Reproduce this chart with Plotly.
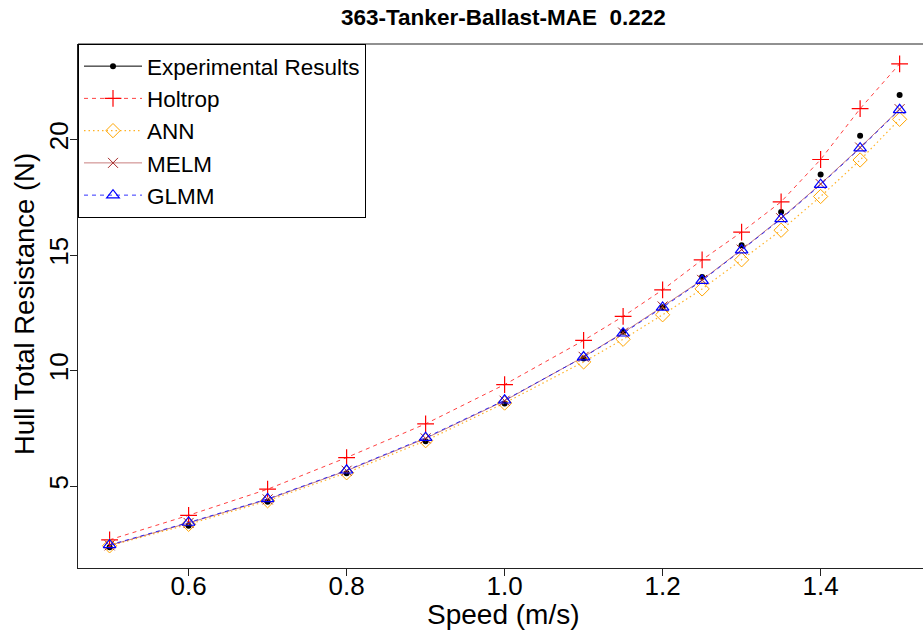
import plotly.graph_objects as go

speed = [0.5, 0.6, 0.7, 0.8, 0.9, 1.0, 1.1, 1.15, 1.2, 1.25, 1.3, 1.35, 1.4, 1.45, 1.5]
experimental = [2.36, 3.29, 4.33, 5.56, 6.95, 8.58, 10.53, 11.69, 12.75, 14.06, 15.43, 16.87, 18.49, 20.17, 21.93]
holtrop = [2.68, 3.74, 4.87, 6.24, 7.70, 9.40, 11.31, 12.35, 13.50, 14.80, 16.00, 17.31, 19.14, 21.34, 23.28]
ann = [2.42, 3.35, 4.37, 5.58, 6.97, 8.60, 10.38, 11.36, 12.42, 13.54, 14.80, 16.08, 17.54, 19.12, 20.88]
melm = [2.44, 3.41, 4.43, 5.67, 7.07, 8.70, 10.60, 11.65, 12.78, 13.93, 15.24, 16.60, 18.08, 19.66, 21.32]
glmm = [2.46, 3.43, 4.45, 5.69, 7.10, 8.72, 10.59, 11.62, 12.74, 13.90, 15.22, 16.57, 18.05, 19.63, 21.29]

x_ticks = [0.6, 0.8, 1.0, 1.2, 1.4]
x_ticklabels = ["0.6", "0.8", "1.0", "1.2", "1.4"]
y_ticks = [5, 10, 15, 20]
y_ticklabels = ["5", "10", "15", "20"]

title_text = "363-Tanker-Ballast-MAE  0.222"
x_title = "Speed (m/s)"
y_title = "Hull Total Resistance (N)"

FONT = "Liberation Sans, Arial, sans-serif"

fig = go.Figure()
# Experimental: points only in the plot, line+point symbol in the legend
fig.add_trace(go.Scatter(
    x=speed, y=experimental, name="Experimental Results", mode="markers",
    marker=dict(symbol="circle", size=6, color="black"), showlegend=False))
fig.add_trace(go.Scatter(
    x=[None], y=[None], name="Experimental Results", mode="lines+markers",
    line=dict(color="black", width=1, dash="solid"),
    marker=dict(symbol="circle", size=6, color="black")))
fig.add_trace(go.Scatter(
    x=speed, y=holtrop, name="Holtrop", mode="lines+markers",
    line=dict(color="rgba(255,0,0,0.75)", width=1, dash="4px,4px"),
    marker=dict(symbol="cross-thin-open", size=12, color="red", line=dict(width=1.2, color="red"))))
fig.add_trace(go.Scatter(
    x=speed, y=ann, name="ANN", mode="lines+markers",
    line=dict(color="rgba(255,165,0,0.85)", width=1.2, dash="1.5px,3px"),
    marker=dict(symbol="diamond-open", size=11, color="orange", line=dict(width=1, color="orange"))))
fig.add_trace(go.Scatter(
    x=speed, y=melm, name="MELM", mode="lines+markers",
    line=dict(color="rgba(165,42,42,0.6)", width=1, dash="solid"),
    marker=dict(symbol="x-thin-open", size=10, color="brown", line=dict(width=1, color="brown"))))
fig.add_trace(go.Scatter(
    x=speed, y=glmm, name="GLMM", mode="lines+markers",
    line=dict(color="rgba(0,0,255,0.8)", width=1, dash="4px,4px"),
    marker=dict(symbol="triangle-up-open", size=11, color="blue", line=dict(width=1.2, color="blue"))))

fig.update_layout(
    width=923, height=630,
    margin=dict(l=78, r=0, t=44, b=62),
    paper_bgcolor="white", plot_bgcolor="white",
    font=dict(family=FONT, color="black"),
    showlegend=True,
    legend=dict(
        x=0, y=1, xanchor="left", yanchor="top",
        bgcolor="white", bordercolor="black", borderwidth=1,
        font=dict(size=22.5, family=FONT, color="black"),
        itemwidth=58, tracegroupgap=0,
    ),
    xaxis=dict(
        range=[0.46, 1.5296], showgrid=False, zeroline=False,
        showline=True, linecolor="#222", linewidth=1, mirror=False,
        ticks="outside", ticklen=7, tickcolor="#222",
        tickvals=x_ticks, ticktext=x_ticklabels, ticklabelstandoff=-12,
        tickfont=dict(size=26, family=FONT, color="black"),
    ),
    yaxis=dict(
        range=[1.46, 24.14], showgrid=False, zeroline=False,
        showline=True, linecolor="#222", linewidth=1, mirror=False,
        ticks="outside", ticklen=7, tickcolor="#222",
        tickvals=y_ticks, ticktext=y_ticklabels, tickangle=-90, ticklabelstandoff=-8,
        tickfont=dict(size=26, family=FONT, color="black"),
    ),
    shapes=[dict(type="line", xref="paper", yref="paper", x0=0, x1=1, y0=1, y1=1,
                 line=dict(color="#222", width=1))],
    annotations=[
        dict(text="<b>" + title_text + "</b>", xref="paper", yref="paper", x=(503 - 78) / 845, y=1,
             yshift=27, xanchor="center", yanchor="middle", showarrow=False,
             font=dict(size=22.5, family=FONT, color="black")),
        dict(text=x_title, xref="paper", yref="paper", x=(503 - 78) / 845, y=0,
             yshift=-46, xanchor="center", yanchor="middle", showarrow=False,
             font=dict(size=28, family=FONT, color="black")),
        dict(text=y_title, xref="paper", yref="paper", x=0, y=(568 - 292) / 524,
             xshift=-54, yshift=-12, xanchor="center", yanchor="middle", showarrow=False, textangle=-90,
             font=dict(size=27.5, family=FONT, color="black")),
    ],
)

fig.write_html("out.html")
